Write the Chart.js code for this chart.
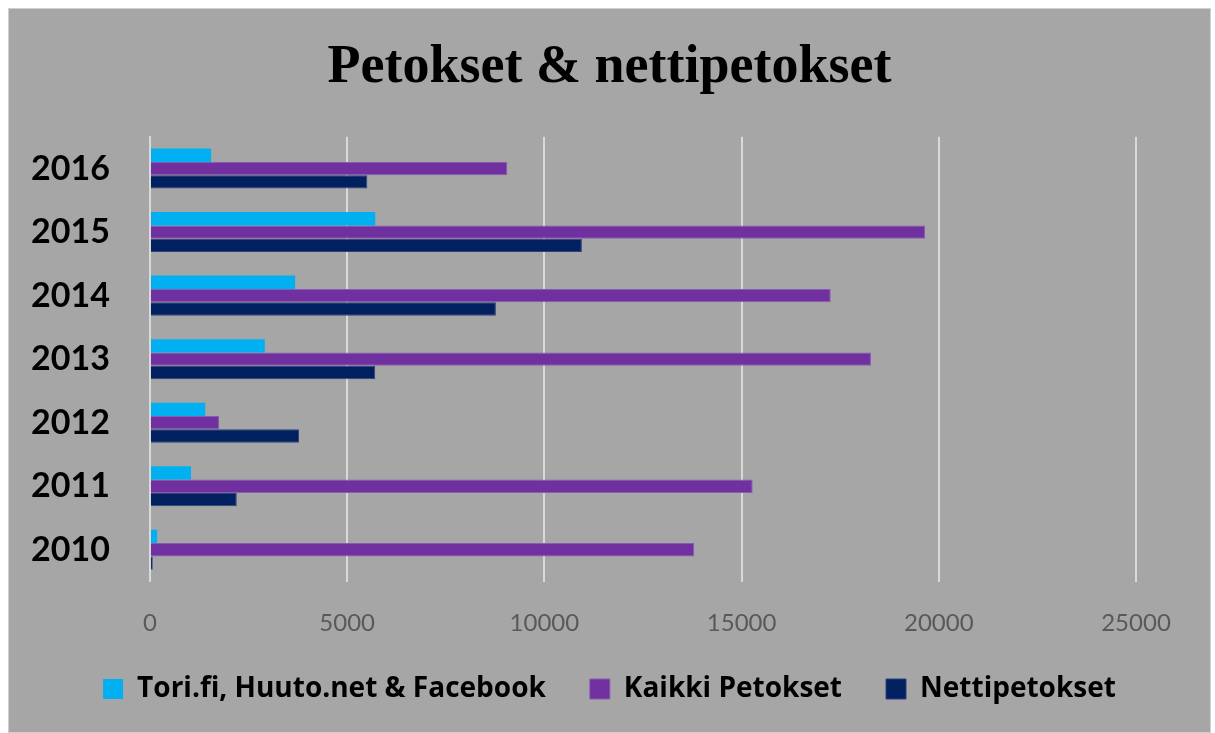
<!DOCTYPE html>
<html>
<head>
<meta charset="utf-8">
<script src="https://cdn.jsdelivr.net/npm/chart.js@4"></script>
<style>
    body { margin: 0; background: #ffffff; }
    #wrap {
        position: absolute;
        left: 8px;
        top: 8px;
        width: 1203px;
        height: 725px;
        background: #a6a6a6;
        box-shadow: inset 0 0 0 1px #cfcfcf;
    }
</style>
</head>
<body>
<div id="wrap">
    <canvas id="chart" width="1203" height="725"></canvas>
</div>
<script>
// years, top to bottom as in the picture
const years = ['2016', '2015', '2014', '2013', '2012', '2011', '2010'];

const toriHuutoFacebook = [1550, 5710, 3680, 2910, 1400, 1040, 180];
const kaikkiPetokset = [9060, 19650, 17260, 18280, 1750, 15280, 13800];
const nettipetokset = [5510, 10950, 8770, 5710, 3780, 2200, 70];

const xTicks = [0, 5000, 10000, 15000, 20000, 25000];

const ctx = document.getElementById('chart').getContext('2d');

new Chart(ctx, {
    type: 'bar',
    data: {
        labels: years,
        datasets: [{
            label: 'Tori.fi, Huuto.net & Facebook',
            data: toriHuutoFacebook,
            backgroundColor: '#00b0f0',
            borderColor: '#00b0f0',
            borderWidth: 0,
        }, {
            label: 'Kaikki Petokset',
            data: kaikkiPetokset,
            backgroundColor: '#7030a0',
            borderColor: '#8a5bb4',
            borderWidth: 1,
        }, {
            label: 'Nettipetokset',
            data: nettipetokset,
            backgroundColor: '#002060',
            borderColor: '#33407a',
            borderWidth: 1,
        }]
    },
    options: {
        indexAxis: 'y',
        responsive: false,
        animation: false,
        categoryPercentage: 0.63,
        barPercentage: 1,
        layout: {
            padding: { left: 0, right: 0, top: 0, bottom: 20 }
        },
        scales: {
            x: {
                min: 0,
                max: 25000,
                afterBuildTicks: (scale) => {
                    scale.ticks = xTicks.map((v) => ({ value: v }));
                },
                afterFit: (scale) => { scale.height = 49.5; },
                ticks: {
                    color: '#595959',
                    padding: 27,
                    font: { family: 'Lato', size: 24 },
                    callback: (value) => String(value)
                },
                grid: {
                    color: '#d9d9d9',
                    lineWidth: 2,
                    drawTicks: false
                },
                border: { display: false }
            },
            y: {
                afterFit: (scale) => { scale.width = 142; },
                ticks: {
                    color: '#000000',
                    padding: 40,
                    font: { family: 'Lato', size: 34, weight: 'bold' }
                },
                grid: {
                    display: false,
                    drawTicks: false
                },
                border: { display: true, color: '#d9d9d9', width: 2 }
            },
            yRight: {
                position: 'right',
                type: 'category',
                labels: years,
                afterFit: (scale) => { scale.width = 75; },
                ticks: { display: false },
                grid: { display: false, drawTicks: false },
                border: { display: false }
            }
        },
        plugins: {
            title: {
                display: true,
                text: 'Petokset & nettipetokset',
                color: '#000000',
                font: { family: 'Liberation Serif', size: 54, weight: 'bold' },
                padding: { top: 28, bottom: 36 }
            },
            legend: {
                position: 'bottom',
                labels: {
                    color: '#000000',
                    boxWidth: 20,
                    boxHeight: 20,
                    padding: 44,
                    font: { family: 'Open Sans', size: 28, weight: 'bold' }
                }
            },
            tooltip: { enabled: false }
        }
    }
});
</script>
</body>
</html>
